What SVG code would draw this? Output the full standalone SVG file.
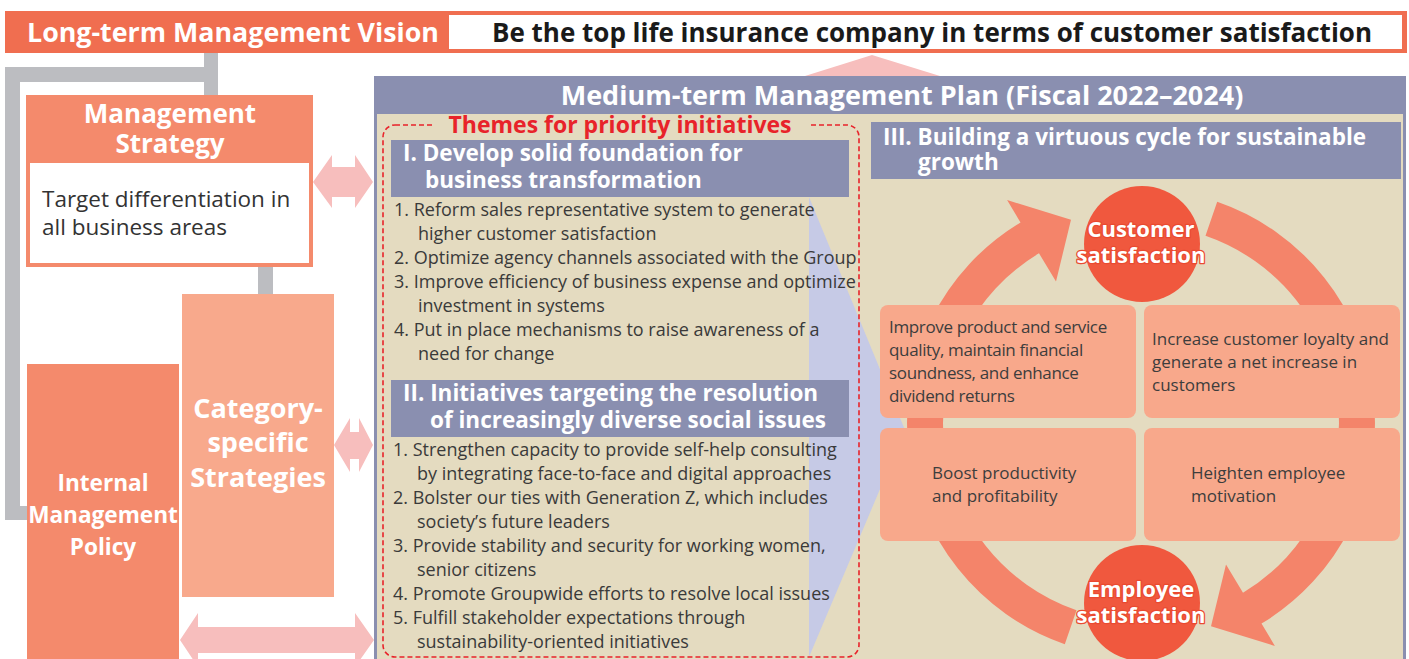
<svg xmlns="http://www.w3.org/2000/svg" width="1409" height="659" viewBox="0 0 1409 659">
<style>
text{font-family:"Open Sans","Noto Sans","Liberation Sans",sans-serif}
.wb{fill:#fff;font-weight:bold}
.item{font-size:18px;fill:#3a3a3a}
.box{font-size:17px;fill:#3d3d3d}
.sec{font-size:22.5px;fill:#fff;font-weight:bold}
.circ{font-size:22px;fill:#fff;font-weight:bold;stroke:#ea4a30;stroke-width:2.5;paint-order:stroke;stroke-linejoin:round;text-anchor:middle}
.gray{fill:#bcbdc1}
.pink{fill:#f7bebd}
.ring{fill:#f4846a}
.card{fill:#f8a88b}
.ball{fill:#f0583e}
.hdr{fill:#8a8fb0}
</style>
<rect width="1409" height="659" fill="#fff"/>

<g id="connectors">
  <rect class="gray" x="204" y="52" width="14" height="43"/>
  <rect class="gray" x="5" y="67" width="213" height="15"/>
  <rect class="gray" x="5" y="67" width="15" height="453"/>
  <rect class="gray" x="5" y="506" width="22" height="14"/>
  <rect class="gray" x="258" y="265" width="15" height="29"/>
  <polygon class="pink" points="805,76 872,55 940,76"/>
  <polygon class="pink" points="313,182 332,155 332,167 355,167 355,155 373,182 355,208 355,197 332,197 332,208"/>
  <polygon class="pink" points="334,445 350,418 350,432 359,432 359,418 373,445 359,472 359,459 350,459 350,472"/>
  <polygon class="pink" points="180,640 198,613 198,627 355,627 355,613 374,640 355,667 355,653 198,653 198,667"/>
</g>

<g id="vision">
  <rect x="5" y="11" width="1402" height="42" fill="#f06e50"/>
  <rect x="449" y="15" width="953" height="34" fill="#fff"/>
  <text class="wb" x="27" y="42" font-size="26.8">Long-term Management Vision</text>
  <text x="492" y="42" font-size="27" font-weight="bold" fill="#1a1a1a" textLength="880" lengthAdjust="spacingAndGlyphs">Be the top life insurance company in terms of customer satisfaction</text>
</g>

<g id="management-strategy">
  <rect x="26" y="95" width="287" height="172" fill="#f48a6c"/>
  <rect x="30" y="163" width="279" height="100" fill="#fff"/>
  <text class="wb" x="170" y="123" font-size="26" text-anchor="middle">Management</text>
  <text class="wb" x="170" y="153" font-size="26" text-anchor="middle">Strategy</text>
  <text x="42" y="207" font-size="22.5" fill="#333">Target differentiation in</text>
  <text x="42" y="235" font-size="22.5" fill="#333">all business areas</text>
</g>

<g id="category-strategies">
  <rect x="182" y="294" width="152" height="303" fill="#f8a98c"/>
  <text class="wb" x="258" y="418" font-size="27" text-anchor="middle">Category-</text>
  <text class="wb" x="258" y="452" font-size="27" text-anchor="middle">specific</text>
  <text class="wb" x="258" y="487" font-size="27" text-anchor="middle">Strategies</text>
</g>

<g id="internal-policy">
  <rect x="27" y="364" width="152" height="300" fill="#f48a6c"/>
  <text class="wb" x="103" y="491" font-size="22.6" text-anchor="middle">Internal</text>
  <text class="wb" x="103" y="523" font-size="22.6" text-anchor="middle">Management</text>
  <text class="wb" x="103" y="555" font-size="22.6" text-anchor="middle">Policy</text>
</g>

<g id="medium-term-plan">
  <rect x="374" y="76" width="1032" height="590" fill="#8a8fb0"/>
  <rect x="377" y="114" width="1026" height="550" fill="#e4dbc0"/>
  <text class="wb" x="902" y="105" font-size="27" text-anchor="middle">Medium-term Management Plan (Fiscal 2022–2024)</text>
  <polygon points="809,197 905,430 809,657" fill="#c6cae6"/>
</g>

<g id="priority-themes">
  <rect x="383" y="125" width="476" height="532" rx="12" fill="none" stroke="#e8232a" stroke-width="1.6" stroke-dasharray="5 3"/>
  <rect x="434" y="115" width="374" height="21" fill="#e4dbc0"/>
  <text x="620" y="133" font-size="23" font-weight="bold" fill="#e8232a" text-anchor="middle">Themes for priority initiatives</text>
</g>

<g id="theme-1">
  <rect class="hdr" x="391" y="140" width="458" height="57"/>
  <text class="sec" x="403" y="161">I. Develop solid foundation for</text>
  <text class="sec" x="425" y="188">business transformation</text>
  <text class="item" x="394" y="216">1. Reform sales representative system to generate</text>
  <text class="item" x="418" y="240">higher customer satisfaction</text>
  <text class="item" x="394" y="264">2. Optimize agency channels associated with the Group</text>
  <text class="item" x="394" y="288">3. Improve efficiency of business expense and optimize</text>
  <text class="item" x="418" y="312">investment in systems</text>
  <text class="item" x="394" y="336">4. Put in place mechanisms to raise awareness of a</text>
  <text class="item" x="418" y="360">need for change</text>
</g>

<g id="theme-2">
  <rect class="hdr" x="391" y="380" width="458" height="57"/>
  <text class="sec" x="403" y="401">II. Initiatives targeting the resolution</text>
  <text class="sec" x="430" y="428">of increasingly diverse social issues</text>
  <text class="item" x="393" y="456">1. Strengthen capacity to provide self-help consulting</text>
  <text class="item" x="417" y="480">by integrating face-to-face and digital approaches</text>
  <text class="item" x="393" y="504">2. Bolster our ties with Generation Z, which includes</text>
  <text class="item" x="417" y="528">society’s future leaders</text>
  <text class="item" x="393" y="552">3. Provide stability and security for working women,</text>
  <text class="item" x="417" y="576">senior citizens</text>
  <text class="item" x="393" y="600">4. Promote Groupwide efforts to resolve local issues</text>
  <text class="item" x="393" y="624">5. Fulfill stakeholder expectations through</text>
  <text class="item" x="417" y="648">sustainability-oriented initiatives</text>
</g>

<g id="theme-3">
  <rect class="hdr" x="871" y="122" width="530" height="57"/>
  <text class="sec" x="883" y="145" font-size="21.6">III. Building a virtuous cycle for sustainable</text>
  <text class="sec" x="918" y="170" font-size="21.6">growth</text>
</g>

<g id="cycle-arrows">
  <path class="ring" d="M1064.8,644.2 A234,234 0 0 1 1020.5,222.4 L1007.1,200.1 L1071,219.7 L1056,281.6 L1039,253.3 A198,198 0 0 0 1076.5,610.2 Z"/>
  <path class="ring" d="M1217.2,201.8 A234,234 0 0 1 1261.5,623.6 L1274.9,645.9 L1211,626.3 L1226,564.4 L1243,592.7 A198,198 0 0 0 1205.5,235.8 Z"/>
</g>

<g id="customer-satisfaction">
  <circle class="ball" cx="1142" cy="244" r="58"/>
  <text class="circ" x="1141" y="237">Customer</text>
  <text class="circ" x="1141" y="263">satisfaction</text>
</g>

<g id="employee-satisfaction">
  <circle class="ball" cx="1142" cy="603" r="58"/>
  <text class="circ" x="1141" y="597">Employee</text>
  <text class="circ" x="1141" y="623">satisfaction</text>
</g>

<g id="card-quality">
  <rect class="card" x="880" y="305" width="256" height="113" rx="8"/>
  <text class="box" x="889" y="333" letter-spacing="-0.35">Improve product and service</text>
  <text class="box" x="889" y="356" letter-spacing="-0.35">quality, maintain financial</text>
  <text class="box" x="889" y="379" letter-spacing="-0.35">soundness, and enhance</text>
  <text class="box" x="889" y="402" letter-spacing="-0.35">dividend returns</text>
</g>

<g id="card-loyalty">
  <rect class="card" x="1144" y="305" width="256" height="113" rx="8"/>
  <text class="box" x="1152" y="345">Increase customer loyalty and</text>
  <text class="box" x="1152" y="368">generate a net increase in</text>
  <text class="box" x="1152" y="391">customers</text>
</g>

<g id="card-productivity">
  <rect class="card" x="880" y="428" width="256" height="113" rx="8"/>
  <text class="box" x="932" y="479">Boost productivity</text>
  <text class="box" x="932" y="502">and profitability</text>
</g>

<g id="card-motivation">
  <rect class="card" x="1144" y="428" width="256" height="113" rx="8"/>
  <text class="box" x="1191" y="479">Heighten employee</text>
  <text class="box" x="1191" y="502">motivation</text>
</g>
</svg>
